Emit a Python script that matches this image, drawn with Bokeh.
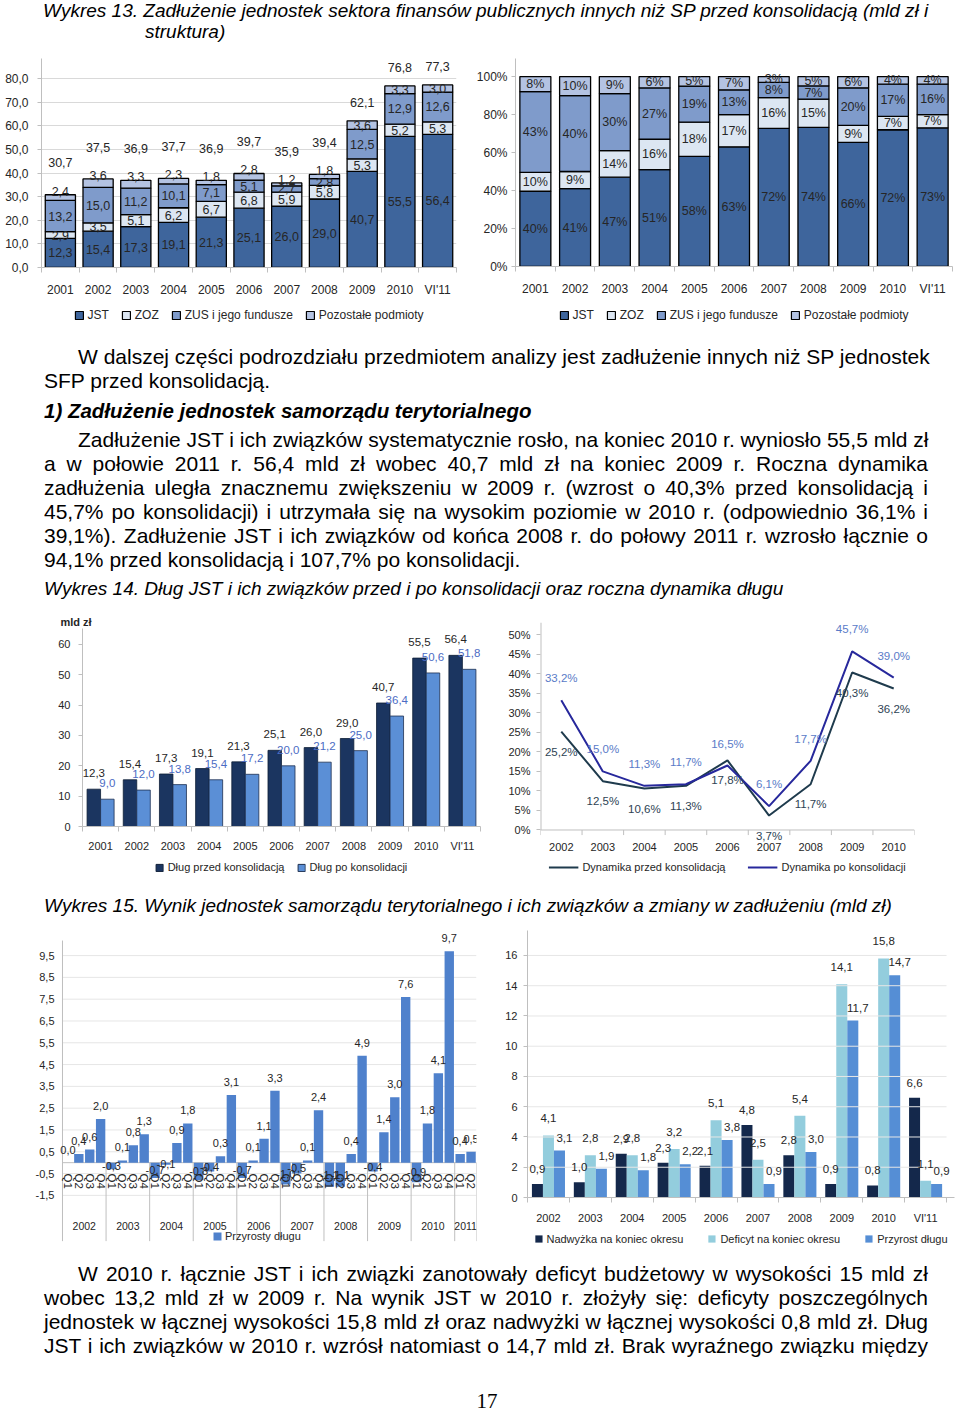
import math
from bokeh.plotting import figure
from bokeh.models import (ColumnDataSource, Range1d, FixedTicker, CustomJSTickFormatter,
                          Legend, LegendItem, Div, Spacer, LabelSet)
from bokeh.layouts import column, row
from bokeh.embed import file_html
from bokeh.resources import INLINE
from bokeh.core.properties import value

# ---------------- data: Wykres 13 ----------------
years13 = ["2001", "2002", "2003", "2004", "2005", "2006", "2007", "2008", "2009", "2010", "VI'11"]
series13 = ["JST", "ZOZ", "ZUS i jego fundusze", "Pozostałe podmioty"]
jst13 = [12.3, 15.4, 17.3, 19.1, 21.3, 25.1, 26.0, 29.0, 40.7, 55.5, 56.4]
zoz13 = [2.9, 3.5, 5.1, 6.2, 6.7, 6.8, 5.9, 5.8, 5.3, 5.2, 5.3]
zus13 = [13.2, 15.0, 11.2, 10.1, 7.1, 5.1, 2.7, 2.8, 12.5, 12.9, 12.6]
poz13 = [2.4, 3.6, 3.3, 2.3, 1.8, 2.8, 1.2, 1.8, 3.6, 3.3, 3.0]
tot13 = [30.7, 37.5, 36.9, 37.7, 36.9, 39.7, 35.9, 39.4, 62.1, 76.8, 77.3]
jst_pct = [40, 41, 47, 51, 58, 63, 72, 74, 66, 72, 73]
zoz_pct = [10, 9, 14, 16, 18, 17, 16, 15, 9, 7, 7]
zus_pct = [43, 40, 30, 27, 19, 13, 8, 7, 20, 17, 16]
poz_pct = [8, 10, 9, 6, 5, 7, 3, 5, 6, 4, 4]

# ---------------- data: Wykres 14 ----------------
years14 = ["2001", "2002", "2003", "2004", "2005", "2006", "2007", "2008", "2009", "2010", "VI'11"]
dlug_przed = [12.3, 15.4, 17.3, 19.1, 21.3, 25.1, 26.0, 29.0, 40.7, 55.5, 56.4]
dlug_po = [9.0, 12.0, 13.8, 15.4, 17.2, 20.0, 21.2, 25.0, 36.4, 50.6, 51.8]
years14b = ["2002", "2003", "2004", "2005", "2006", "2007", "2008", "2009", "2010"]
dyn_przed = [25.2, 12.5, 10.6, 11.3, 17.8, 3.7, 11.7, 40.3, 36.2]
dyn_po = [33.2, 15.0, 11.3, 11.7, 16.5, 6.1, 17.7, 45.7, 39.0]

# ---------------- data: Wykres 15 ----------------
years15 = ["2002", "2003", "2004", "2005", "2006", "2007", "2008", "2009", "2010", "2011"]
quarters = ["Q1", "Q2", "Q3", "Q4"]
przyrosty_q = [
    [0.0, 0.4, 0.6, 2.0],
    [-0.3, 0.1, 0.8, 1.3],
    [-0.7, -0.1, 0.9, 1.8],
    [-0.8, -0.4, 0.3, 3.1],
    [-0.7, 0.1, 1.1, 3.3],
    [-1.0, -0.5, 0.1, 2.4],
    [-1.1, -1.1, 0.4, 4.9],
    [-0.4, 1.4, 3.0, 7.6],
    [-0.9, 1.8, 4.1, 9.7],
    [0.4, 0.5],
]
years15b = ["2002", "2003", "2004", "2005", "2006", "2007", "2008", "2009", "2010", "VI'11"]
nadwyzka = [0.9, 1.0, 2.9, 2.3, 2.1, 4.8, 2.8, 0.9, 0.8, 6.6]
deficyt = [4.1, 2.8, 2.8, 3.2, 5.1, 2.5, 5.4, 14.1, 15.8, 1.1]
przyrost = [3.1, 1.9, 1.8, 2.2, 3.8, 0.9, 3.0, 11.7, 14.7, 0.9]

# ---------------- style helpers ----------------
CF = "Liberation Sans"
TXT = "#262626"
AXC = "#BFBFBF"
GRIDC = "#D9D9D9"
COMMA1 = "return tick.toFixed(1).replace('.', ',')"
PCT = "return tick.toFixed(0) + '%'"


def fmt1(v):
    return f"{v:.1f}".replace(".", ",")


def new_fig(**kw):
    p = figure(output_backend="svg", toolbar_location=None, **kw)
    p.outline_line_color = None
    p.xgrid.grid_line_color = None
    p.ygrid.grid_line_color = None
    for ax in p.axis:
        ax.axis_line_color = AXC
        ax.major_tick_line_color = AXC
        ax.minor_tick_line_color = None
        ax.major_tick_in = 0
        ax.major_tick_out = 4
        ax.major_label_text_font = CF
        ax.major_label_text_color = TXT
    return p


def cat_axis(p, cats, fs, standoff, minor=True):
    n = len(cats)
    ax = p.xaxis[0]
    ax.ticker = FixedTicker(ticks=[i + 0.5 for i in range(n)],
                            minor_ticks=list(range(n + 1)) if minor else [])
    ax.formatter = CustomJSTickFormatter(args=dict(labels=cats),
                                         code="return labels[Math.floor(tick)];")
    ax.major_tick_line_color = None
    ax.major_tick_out = 0
    ax.major_tick_in = 0
    ax.minor_tick_line_color = AXC if minor else None
    ax.minor_tick_out = 5 if minor else 0
    ax.minor_tick_in = 0
    ax.major_label_text_font_size = fs
    ax.major_label_standoff = standoff


def legend_fig(width, height, entries, fs="12px", glyph=10, gw=None, spacing=14,
               kind="bar", left=0):
    lf = figure(width=width, height=height, output_backend="svg", toolbar_location=None,
                x_axis_location=None, y_axis_location=None, min_border_left=left,
                min_border_right=0, min_border_top=0, min_border_bottom=0,
                x_range=Range1d(0, 1), y_range=Range1d(0, 1))
    lf.outline_line_color = None
    lf.xgrid.visible = False
    lf.ygrid.visible = False
    items = []
    for label, props in entries:
        # hidden sample renderer: only its legend glyph is shown
        if kind == "bar":
            r = lf.vbar(x=[0.5], top=[0.5], width=0.01, **props)
        else:
            r = lf.line(x=[0.4, 0.6], y=[0.5, 0.5], **props)
        r.visible = False
        items.append(LegendItem(label=label, renderers=[r]))
    lg = Legend(items=items, location="center", orientation="horizontal",
                label_text_font=CF, label_text_font_size=fs, label_text_color=TXT,
                glyph_width=gw or glyph, glyph_height=glyph, spacing=spacing,
                label_standoff=4, padding=0, margin=0, border_line_color=None,
                background_fill_alpha=0, inactive_fill_alpha=0)
    lf.add_layout(lg)
    return lf


def labels(p, src, x, y, text, color=TXT, size="12px", yo=0, xo=0):
    ls = LabelSet(x=x, y=y, text=text, source=src, text_align="center",
                  text_baseline="middle", text_font=value(CF), text_font_size=size,
                  text_color=color, x_offset=xo, y_offset=yo)
    p.add_layout(ls)


# ================= Wykres 13 (left): stacked values =================
cols13 = ["#3E659C", "#DCE6F2", "#7F9BCB", "#B4C3E2"]
n13 = len(years13)
xi13 = [i + 0.5 for i in range(n13)]
src1 = ColumnDataSource(dict(x=xi13, jst=jst13, zoz=zoz13, zus=zus13, poz=poz13))
p1 = new_fig(x_range=Range1d(0, n13), y_range=Range1d(0, 88.5), width=466, height=252,
             min_border_left=41, min_border_right=10, min_border_top=10, min_border_bottom=33)
p1.vbar_stack(["jst", "zoz", "zus", "poz"], x="x", width=0.8, source=src1,
              fill_color=cols13, line_color="black", line_width=1.3)
lx, ly, lt = [], [], []
for i in range(n13):
    a, b, c, d = jst13[i], zoz13[i], zus13[i], poz13[i]
    top = a + b + c + d
    big = tot13[i] >= 50
    lx += [xi13[i]] * 5
    ly += [a / 2, a + b / 2, a + b + c / 2,
           (a + b + c + d / 2) if big else top + 1.5,
           top + (7.8 if big else 13.5)]
    lt += [fmt1(a), fmt1(b), fmt1(c), fmt1(d), fmt1(tot13[i])]
labels(p1, ColumnDataSource(dict(x=lx, y=ly, t=lt)), "x", "y", "t", size="12.5px")
p1.yaxis.ticker = FixedTicker(ticks=[0, 10, 20, 30, 40, 50, 60, 70, 80])
p1.yaxis.formatter = CustomJSTickFormatter(code=COMMA1)
p1.ygrid.ticker = FixedTicker(ticks=[10, 20, 30, 40, 50, 60, 70, 80])
p1.ygrid.grid_line_color = GRIDC
p1.yaxis.major_label_text_font_size = "12px"
p1.yaxis.major_label_standoff = 9
cat_axis(p1, years13, "12px", 10)

# ================= Wykres 13 (right): structure =================
rows_pct = list(zip(jst_pct, zoz_pct, zus_pct, poz_pct))
norm = [[v * 100.0 / sum(r) for v in r] for r in rows_pct]
src2 = ColumnDataSource(dict(x=xi13, jst=[r[0] for r in norm], zoz=[r[1] for r in norm],
                             zus=[r[2] for r in norm], poz=[r[3] for r in norm]))
p2 = new_fig(x_range=Range1d(0, n13), y_range=Range1d(0, 109.5), width=494, height=252,
             min_border_left=47, min_border_right=8, min_border_top=10, min_border_bottom=34)
p2.vbar_stack(["jst", "zoz", "zus", "poz"], x="x", width=0.78, source=src2,
              fill_color=cols13, line_color="black", line_width=1.3)
lx, ly, lt = [], [], []
for i in range(n13):
    cum = 0.0
    for k in range(4):
        h = norm[i][k]
        lx.append(xi13[i])
        ly.append(cum + h / 2)
        lt.append(f"{rows_pct[i][k]}%")
        cum += h
labels(p2, ColumnDataSource(dict(x=lx, y=ly, t=lt)), "x", "y", "t", size="12.5px")
p2.yaxis.ticker = FixedTicker(ticks=[0, 20, 40, 60, 80, 100])
p2.yaxis.formatter = CustomJSTickFormatter(code=PCT)
p2.yaxis.major_label_text_font_size = "12px"
p2.yaxis.major_label_standoff = 4
cat_axis(p2, years13, "12px", 10)

leg13 = [(s, dict(fill_color=c, line_color="black", line_width=1.2))
         for s, c in zip(series13, cols13)]
lg1 = legend_fig(466, 30, leg13, fs="12px", glyph=10, spacing=12, left=30)
lg2 = legend_fig(494, 30, leg13, fs="12px", glyph=10, spacing=12, left=49)

# ================= Wykres 14 (left): debt before/after =================
n14 = len(years14)
xi14 = [i + 0.5 for i in range(n14)]
OFF3 = 0.187
src3 = ColumnDataSource(dict(xa=[x - OFF3 for x in xi14], xb=[x + OFF3 for x in xi14],
                             przed=dlug_przed, po=dlug_po,
                             lp=[fmt1(v) for v in dlug_przed], lpo=[fmt1(v) for v in dlug_po]))
p3 = new_fig(x_range=Range1d(0, n14), y_range=Range1d(0, 65.25), width=450, height=254,
             min_border_left=42, min_border_right=10, min_border_top=28, min_border_bottom=27,
             title="mld zł")
p3.vbar(x="xa", top="przed", width=0.373, source=src3,
        fill_color="#1B3560", line_color="#0E1E36", line_width=0.8)
p3.vbar(x="xb", top="po", width=0.373, source=src3,
        fill_color="#5B8FD6", line_color="#1E3050", line_width=0.8)
labels(p3, src3, "xa", "przed", "lp", size="11.5px", yo=16)
labels(p3, src3, "xb", "po", "lpo", color="#4C6CC4", size="11.5px", yo=16)
p3.title.align = "left"
p3.title.offset = -22
p3.title.standoff = 2
p3.title.text_font = CF
p3.title.text_font_size = "11px"
p3.title.text_font_style = "bold"
p3.title.text_color = TXT
p3.yaxis.ticker = FixedTicker(ticks=[0, 10, 20, 30, 40, 50, 60])
p3.yaxis.major_label_text_font_size = "11px"
p3.yaxis.major_label_standoff = 8
cat_axis(p3, years14, "11px", 8)
lg3 = legend_fig(450, 26, [("Dług przed konsolidacją", dict(fill_color="#1B3560", line_color="#0E1E36")),
                           ("Dług po konsolidacji", dict(fill_color="#5B8FD6", line_color="#1E3050"))],
                 fs="11px", glyph=9, spacing=12, left=33)

# ================= Wykres 14 (right): dynamics =================
n14b = len(years14b)
xi14b = [i + 0.5 for i in range(n14b)]
src4 = ColumnDataSource(dict(x=xi14b, przed=dyn_przed, po=dyn_po,
                             lp=[fmt1(v) + "%" for v in dyn_przed],
                             lpo=[fmt1(v) + "%" for v in dyn_po]))
# the frame reaches a little below 0 so that the "3,7%" label under the axis is not clipped
p4 = new_fig(x_range=Range1d(0, n14b), y_range=Range1d(-3.2, 53.1), width=430, height=254,
             min_border_left=50, min_border_right=6, min_border_top=22, min_border_bottom=12)
p4.line("x", "przed", source=src4, line_color="#1F3B4D", line_width=2)
p4.line("x", "po", source=src4, line_color="#27289C", line_width=2)
labels(p4, src4, "x", "po", "lpo", color="#5A7BC8", size="11.5px", yo=22)
labels(p4, src4, "x", "przed", "lp", color="#2E4354", size="11.5px", yo=-20)
p4.yaxis.ticker = FixedTicker(ticks=[0, 5, 10, 15, 20, 25, 30, 35, 40, 45, 50])
p4.yaxis.formatter = CustomJSTickFormatter(code=PCT)
p4.yaxis.major_label_text_font_size = "11px"
p4.yaxis.major_label_standoff = 6
p4.yaxis.axis_line_color = None
cat_axis(p4, years14b, "11px", 0, minor=False)
p4.xaxis.axis_line_color = None
p4.segment(x0=[0], y0=[0], x1=[n14b], y1=[0], line_color=AXC, line_width=1)
p4.segment(x0=[0], y0=[0], x1=[0], y1=[53.1], line_color=AXC, line_width=2)
p4.segment(x0=list(range(n14b + 1)), y0=[0] * (n14b + 1), x1=list(range(n14b + 1)),
           y1=[-1.3] * (n14b + 1), line_color=AXC, line_width=1)
lg4 = legend_fig(430, 26, [("Dynamika przed konsolidacją", dict(line_color="#1F3B4D", line_width=2)),
                           ("Dynamika po konsolidacji", dict(line_color="#27289C", line_width=2))],
                 fs="11px", glyph=10, gw=30, spacing=22, kind="line", left=5)

# ================= Wykres 15 (left): quarterly debt increments =================
qx, qv, qlab, qlt, qly = [], [], [], [], []
bounds, ycent = [], []
idx = 0
for yi, vals in enumerate(przyrosty_q):
    start = idx
    for qi, v in enumerate(vals):
        qx.append(idx + 0.5)
        qv.append(v)
        qlab.append(quarters[qi])
        qlt.append(fmt1(v))
        qly.append(v if v >= 0 else v / 2)
        idx += 1
    bounds.append(idx)
    ycent.append((start + idx) / 2)
nq = idx
src5 = ColumnDataSource(dict(x=qx, v=qv, q=qlab, t=qlt, ly=qly,
                             yo=[13 if v >= 0 else 0 for v in qv]))
p5 = new_fig(x_range=Range1d(-0.55, nq), y_range=Range1d(-3.8, 10.88), width=460, height=325,
             min_border_left=26, min_border_right=14, min_border_top=0, min_border_bottom=5,
             x_axis_location=None)
ticks5 = [-1.5 + k for k in range(12)]
p5.yaxis.ticker = FixedTicker(ticks=ticks5)
p5.yaxis.formatter = CustomJSTickFormatter(code=COMMA1)
p5.yaxis.major_label_text_font_size = "11px"
p5.yaxis.major_label_standoff = 2
p5.yaxis.major_tick_out = 0
p5.yaxis.axis_line_color = None
p5.segment(x0=[0] * len(ticks5), y0=ticks5, x1=[nq] * len(ticks5), y1=ticks5,
           line_color="#E6E6E6", line_width=1)
p5.segment(x0=[0], y0=[0], x1=[nq], y1=[0], line_color=AXC, line_width=1)
p5.segment(x0=[0], y0=[-3.6], x1=[0], y1=[10.19], line_color=AXC, line_width=1)
r5 = p5.vbar(x="x", top="v", bottom=0, width=0.86, source=src5, fill_color="#4F81CC",
             line_color=None)
p5.segment(x0=bounds, y0=[0] * len(bounds), x1=bounds, y1=[-3.6] * len(bounds),
           line_color=AXC, line_width=1)
p5.text(x="x", y=-0.5, text="q", source=src5, angle=-math.pi / 2, text_align="left",
        text_baseline="middle", text_font=value(CF), text_font_size="11.5px", text_color=TXT)
p5.text(x=ycent, y=[-2.9] * len(ycent), text=years15, text_align="center",
        text_baseline="middle", text_font=value(CF), text_font_size="10.5px", text_color=TXT)
lab5 = LabelSet(x="x", y="ly", text="t", source=src5, y_offset="yo", text_align="center",
                text_baseline="middle", text_font=value(CF), text_font_size="11px",
                text_color=TXT)
p5.add_layout(lab5)
lg5 = Legend(items=[LegendItem(label="Przyrosty długu", renderers=[r5])], location=(156, 3),
             orientation="horizontal", label_text_font=CF, label_text_font_size="11px",
             label_text_color=TXT, glyph_width=10, glyph_height=10, label_standoff=3,
             padding=0, margin=0, border_line_color=None, background_fill_alpha=0)
p5.add_layout(lg5)

# ================= Wykres 15 (right): result vs debt change =================
n15 = len(years15b)
xi15 = [i + 0.5 for i in range(n15)]
W6 = 0.263
src6 = ColumnDataSource(dict(xa=[x - W6 for x in xi15], xb=xi15, xc=[x + W6 for x in xi15],
                             nad=nadwyzka, de=deficyt, pr=przyrost,
                             ln=[fmt1(v) for v in nadwyzka], ld=[fmt1(v) for v in deficyt],
                             lp=[fmt1(v) for v in przyrost]))
p6 = new_fig(x_range=Range1d(0, n15 + 0.19), y_range=Range1d(0, 17.65), width=470, height=302,
             min_border_left=37, min_border_right=6, min_border_top=5, min_border_bottom=30)
cols15 = ["#14284B", "#93CDDD", "#558ED5"]
p6.vbar(x="xa", top="nad", width=W6, source=src6, fill_color=cols15[0], line_color=None)
p6.vbar(x="xb", top="de", width=W6, source=src6, fill_color=cols15[1], line_color=None)
p6.vbar(x="xc", top="pr", width=W6, source=src6, fill_color=cols15[2], line_color=None)
labels(p6, src6, "xa", "nad", "ln", size="11.5px", yo=15)
labels(p6, src6, "xb", "de", "ld", size="11.5px", yo=17)
labels(p6, src6, "xc", "pr", "lp", size="11.5px", yo=13, xo=5)
p6.yaxis.ticker = FixedTicker(ticks=[0, 2, 4, 6, 8, 10, 12, 14, 16])
p6.yaxis.major_label_text_font_size = "11px"
p6.yaxis.major_label_standoff = 6
gt6 = [2, 4, 6, 8, 10, 12, 14, 16]
p6.segment(x0=[0] * len(gt6), y0=gt6, x1=[n15] * len(gt6), y1=gt6,
           line_color="#E6E6E6", line_width=1)
cat_axis(p6, years15b, "11px", 9)
lg6 = legend_fig(470, 23, [("Nadwyżka na koniec okresu", dict(fill_color=cols15[0], line_color=None)),
                           ("Deficyt na koniec okresu", dict(fill_color=cols15[1], line_color=None)),
                           ("Przyrost długu", dict(fill_color=cols15[2], line_color=None))],
                 fs="11px", glyph=9, spacing=24, left=5)

# ================= text blocks =================
SANS = "'Liberation Sans',Arial,sans-serif"
SERIF = "'Liberation Serif','Times New Roman',serif"


def ln(text, top, left, width=None, size=21, lh=24, extra="", font=SANS, justify=False):
    css = (f"position:absolute;top:{top}px;left:{left}px;margin:0;padding:0;"
           f"font-family:{font};font-size:{size}px;line-height:{lh}px;color:#000;"
           f"white-space:nowrap;{extra}")
    if justify:
        css += f"width:{width}px;text-align:justify;text-align-last:justify;"
    return f'<div style="{css}">{text}</div>'


def block(h, parts):
    html = (f'<div style="position:relative;width:960px;height:{h}px;overflow:hidden;">'
            + "".join(parts) + "</div>")
    return Div(text=html, width=960, height=h, margin=0)


IT = "font-style:italic;"
d_title13 = block(48, [
    ln("Wykres 13. Zadłużenie jednostek sektora finansów publicznych innych niż SP przed "
       "konsolidacją (mld zł i", 0, 43, size=19, lh=21, extra=IT),
    ln("struktura)", 21, 145, size=19, lh=21, extra=IT),
])

L, WFULL, LI, WIND = 44, 884, 78, 850
d_text1 = block(270, [
    ln("W dalszej części podrozdziału przedmiotem analizy jest zadłużenie innych niż SP jednostek",
       15, LI, WIND, justify=True),
    ln("SFP przed konsolidacją.", 39, L),
    ln("1) Zadłużenie jednostek samorządu terytorialnego", 69, L, size=20.5,
       extra="font-weight:bold;font-style:italic;"),
    ln("Zadłużenie JST i ich związków systematycznie rosło, na koniec 2010 r. wyniosło 55,5 mld zł",
       98, LI, WIND, justify=True),
    ln("a w połowie 2011 r. 56,4 mld zł wobec 40,7 mld zł na koniec 2009 r. Roczna dynamika",
       122, L, WFULL, justify=True),
    ln("zadłużenia uległa znacznemu zwiększeniu w 2009 r. (wzrost o 40,3% przed konsolidacją i",
       146, L, WFULL, justify=True),
    ln("45,7% po konsolidacji) i utrzymała się na wysokim poziomie w 2010 r. (odpowiednio 36,1% i",
       170, L, WFULL, justify=True),
    ln("39,1%). Zadłużenie JST i ich związków od końca 2008 r. do połowy 2011 r. wzrosło łącznie o",
       194, L, WFULL, justify=True),
    ln("94,1% przed konsolidacją i 107,7% po konsolidacji.", 218, L),
    ln("Wykres 14. Dług JST i ich związków przed i po konsolidacji oraz roczna dynamika długu",
       247, L, size=19, extra=IT),
])

d_title15 = block(45, [
    ln("Wykres 15. Wynik jednostek samorządu terytorialnego i ich związków a zmiany w "
       "zadłużeniu (mld zł)", 14, L, size=19, extra=IT),
])

d_text3 = block(165, [
    ln("W 2010 r. łącznie JST i ich związki zanotowały deficyt budżetowy w wysokości 15 mld zł",
       12, LI, WIND, justify=True),
    ln("wobec 13,2 mld zł w 2009 r. Na wynik JST w 2010 r. złożyły się: deficyty poszczególnych",
       36, L, WFULL, justify=True),
    ln("jednostek w łącznej wysokości 15,8 mld zł oraz nadwyżki w łącznej wysokości 0,8 mld zł. Dług",
       60, L, WFULL, justify=True),
    ln("JST i ich związków w 2010 r. wzrósł natomiast o 14,7 mld zł.  Brak wyraźnego związku między",
       84, L, WFULL, justify=True),
    ln("17", 140, 472, size=21, lh=22, font=SERIF, extra="text-align:center;width:30px;"),
])

layout = column(
    d_title13,
    row(column(p1, lg1, spacing=0), column(p2, lg2, spacing=0), spacing=0),
    d_text1,
    row(Spacer(width=40, height=280, margin=0),
        column(p3, lg3, spacing=0), column(p4, lg4, spacing=0), spacing=0),
    d_title15,
    row(Spacer(width=30, height=325, margin=0), p5, column(p6, lg6, spacing=0), spacing=0),
    d_text3,
    spacing=0,
)

open("out.html", "w").write(file_html(layout, INLINE))
